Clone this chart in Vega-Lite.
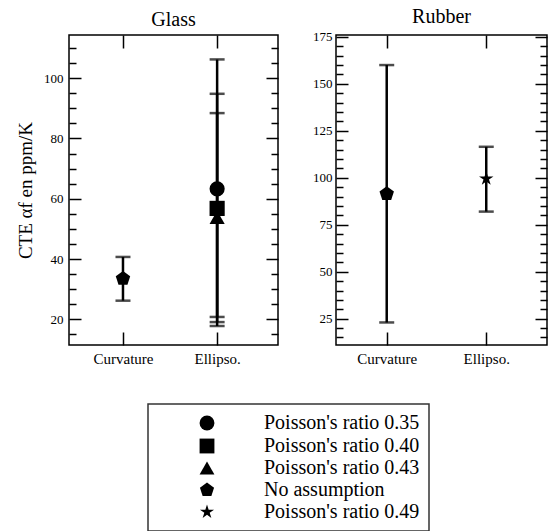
{
  "$schema": "https://vega.github.io/schema/vega-lite/v6.json",
  "padding": {"left": 15, "top": 6, "right": 0, "bottom": 0},
  "background": "white",
  "config": {
    "font": "Liberation Serif, Times New Roman, serif",
    "view": {"stroke": "black", "strokeWidth": 1.5},
    "axis": {"grid": false, "domain": false, "tickColor": "black", "tickWidth": 1.5, "labelColor": "black", "labelFont": "Liberation Serif, Times New Roman, serif", "titleFont": "Liberation Serif, Times New Roman, serif", "titleFontWeight": "normal", "titleColor": "black"},
    "title": {"font": "Liberation Serif, Times New Roman, serif", "fontSize": 20, "fontWeight": "normal", "color": "black", "offset": 4},
    "legend": {
      "orient": "none", "legendX": 79, "legendY": 369,
      "strokeColor": "#333", "strokeWidth": 1.5, "padding": 9,
      "symbolOffset": 40, "labelOffset": 47, "symbolSize": 220,
      "labelFont": "Liberation Serif, Times New Roman, serif", "labelFontSize": 20, "labelColor": "black",
      "rowPadding": 1, "labelLimit": 400
    }
  },
  "datasets": {
    "pts": [
      {"panel": "Glass", "method": "Curvature", "series": "No assumption", "value": 33.5, "lo": 26.2, "hi": 40.7},
      {"panel": "Glass", "method": "Ellipso.", "series": "Poisson's ratio 0.35", "value": 63.3, "lo": 20.8, "hi": 106.2},
      {"panel": "Glass", "method": "Ellipso.", "series": "Poisson's ratio 0.40", "value": 56.8, "lo": 19.1, "hi": 94.8},
      {"panel": "Glass", "method": "Ellipso.", "series": "Poisson's ratio 0.43", "value": 53.8, "lo": 17.8, "hi": 88.4},
      {"panel": "Rubber", "method": "Curvature", "series": "No assumption", "value": 91.5, "lo": 23.0, "hi": 160.0},
      {"panel": "Rubber", "method": "Ellipso.", "series": "Poisson's ratio 0.49", "value": 99.5, "lo": 82.0, "hi": 116.5}
    ]
  },
  "hconcat": [
    {
      "title": "Glass",
      "width": 209, "height": 310,
      "data": {"name": "pts"},
      "transform": [{"filter": "datum.panel === 'Glass'"}],
      "resolve": {"axis": {"x": "independent", "y": "independent"}},
      "layer": [
        {
          "mark": {"type": "rule", "strokeWidth": 2.5, "color": "black"},
          "encoding": {
            "x": {"field": "method", "type": "nominal", "sort": ["Curvature", "Ellipso."],
                  "scale": {"type": "point", "padding": 0.61, "align": 0.47},
                  "axis": {"orient": "bottom", "title": null, "labelAngle": 0, "tickSize": -13, "labelPadding": 19, "labelFontSize": 15}},
            "y": {"field": "lo", "type": "quantitative",
                  "scale": {"domain": [11.5, 114.3], "nice": false, "zero": false},
                  "axis": {"orient": "left", "values": [20, 40, 60, 80, 100], "tickSize": -12, "labelPadding": 18, "labelFontSize": 13, "title": "CTE αf en ppm/K", "titleFontSize": 19, "titlePadding": 8}},
            "y2": {"field": "hi"}
          }
        },
        {
          "mark": {"type": "tick", "thickness": 2.5, "size": 15, "color": "black"},
          "encoding": {
            "x": {"field": "method", "type": "nominal", "sort": ["Curvature", "Ellipso."],
                  "axis": {"orient": "top", "title": null, "labels": false, "tickSize": -13}},
            "y": {"field": "lo", "type": "quantitative",
                  "axis": {"orient": "left", "values": [15, 25, 30, 35, 45, 50, 55, 65, 70, 75, 85, 90, 95, 105, 110], "tickSize": -7, "labels": false, "title": null}}
          }
        },
        {
          "mark": {"type": "tick", "thickness": 2.5, "size": 15, "color": "black"},
          "encoding": {
            "x": {"field": "method", "type": "nominal", "sort": ["Curvature", "Ellipso."], "axis": null},
            "y": {"field": "hi", "type": "quantitative",
                  "axis": {"orient": "right", "values": [20, 40, 60, 80, 100], "tickSize": -12, "labels": false, "title": null}}
          }
        },
        {
          "mark": {"type": "point", "filled": true, "opacity": 1, "color": "black", "size": 230},
          "encoding": {
            "x": {"field": "method", "type": "nominal", "sort": ["Curvature", "Ellipso."], "axis": null},
            "y": {"field": "value", "type": "quantitative",
                  "axis": {"orient": "right", "values": [15, 25, 30, 35, 45, 50, 55, 65, 70, 75, 85, 90, 95, 105, 110], "tickSize": -7, "labels": false, "title": null}},
            "shape": {"field": "series", "type": "nominal", "title": null,
                      "scale": {"domain": ["Poisson's ratio 0.35", "Poisson's ratio 0.40", "Poisson's ratio 0.43", "No assumption", "Poisson's ratio 0.49"],
                                "range": ["circle", "square", "triangle-up", "M0,-1L0.951,-0.309L0.588,0.809L-0.588,0.809L-0.951,-0.309Z", "M0,-1L0.223,-0.307L0.951,-0.309L0.361,0.117L0.588,0.809L0,0.38L-0.588,0.809L-0.361,0.117L-0.951,-0.309L-0.223,-0.307Z"]}}
          }
        }
      ]
    },
    {
      "title": "Rubber",
      "width": 211, "height": 310,
      "data": {"name": "pts"},
      "transform": [{"filter": "datum.panel === 'Rubber'"}],
      "resolve": {"axis": {"x": "independent", "y": "independent"}},
      "layer": [
        {
          "mark": {"type": "rule", "strokeWidth": 2.5, "color": "black"},
          "encoding": {
            "x": {"field": "method", "type": "nominal", "sort": ["Curvature", "Ellipso."],
                  "scale": {"type": "point", "padding": 0.56, "align": 0.455},
                  "axis": {"orient": "bottom", "title": null, "labelAngle": 0, "tickSize": -13, "labelPadding": 19, "labelFontSize": 15}},
            "y": {"field": "lo", "type": "quantitative",
                  "scale": {"domain": [11, 176], "nice": false, "zero": false},
                  "axis": {"orient": "left", "values": [25, 50, 75, 100, 125, 150, 175], "tickSize": -12, "labelPadding": 16, "labelFontSize": 13, "title": null}},
            "y2": {"field": "hi"}
          }
        },
        {
          "mark": {"type": "tick", "thickness": 2.5, "size": 15, "color": "black"},
          "encoding": {
            "x": {"field": "method", "type": "nominal", "sort": ["Curvature", "Ellipso."],
                  "axis": {"orient": "top", "title": null, "labels": false, "tickSize": -13}},
            "y": {"field": "lo", "type": "quantitative",
                  "axis": {"orient": "left", "values": [15, 20, 30, 35, 40, 45, 55, 60, 65, 70, 80, 85, 90, 95, 105, 110, 115, 120, 130, 135, 140, 145, 155, 160, 165, 170], "tickSize": -7, "labels": false, "title": null}}
          }
        },
        {
          "mark": {"type": "tick", "thickness": 2.5, "size": 15, "color": "black"},
          "encoding": {
            "x": {"field": "method", "type": "nominal", "sort": ["Curvature", "Ellipso."], "axis": null},
            "y": {"field": "hi", "type": "quantitative",
                  "axis": {"orient": "right", "values": [25, 50, 75, 100, 125, 150, 175], "tickSize": -12, "labels": false, "title": null}}
          }
        },
        {
          "mark": {"type": "point", "filled": true, "opacity": 1, "color": "black", "size": 230},
          "encoding": {
            "x": {"field": "method", "type": "nominal", "sort": ["Curvature", "Ellipso."], "axis": null},
            "y": {"field": "value", "type": "quantitative",
                  "axis": {"orient": "right", "values": [15, 20, 30, 35, 40, 45, 55, 60, 65, 70, 80, 85, 90, 95, 105, 110, 115, 120, 130, 135, 140, 145, 155, 160, 165, 170], "tickSize": -7, "labels": false, "title": null}},
            "shape": {"field": "series", "type": "nominal", "title": null}
          }
        }
      ]
    }
  ],
  "spacing": 58,
  "bounds": "flush",
  "resolve": {"scale": {"x": "independent", "y": "independent", "shape": "shared"}, "legend": {"shape": "shared"}}
}
